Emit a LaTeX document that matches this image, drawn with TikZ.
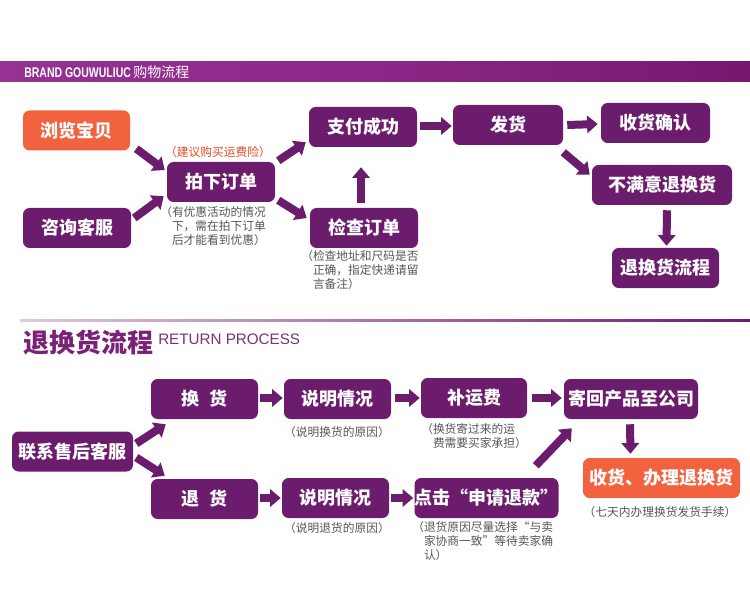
\documentclass[tikz,border=0pt]{standalone}
\usepackage{fontspec}
\setmainfont{Noto Sans CJK SC}
\newfontfamily\latinsans{Liberation Sans}
\usetikzlibrary{positioning,arrows.meta}

\definecolor{plum}{RGB}{108,28,108}
\definecolor{coral}{RGB}{242,98,62}
\definecolor{notegray}{RGB}{85,85,85}
\definecolor{hintred}{RGB}{226,74,34}
\definecolor{bannerL}{RGB}{150,50,145}
\definecolor{bannerM}{RGB}{140,40,135}
\definecolor{bannerR}{RGB}{118,24,112}
\definecolor{lineL}{RGB}{225,200,225}
\definecolor{titlepurple}{RGB}{122,34,120}

\begin{document}
\begin{tikzpicture}[
  x=0.75pt, y=-0.75pt,
  >={Triangle[length=8pt,width=13pt]},
  box/.style={fill=plum, rounded corners=5pt, text=white, inner sep=0pt,
              font=\bfseries\fontsize{13.5}{14}\selectfont,
              minimum height=30pt},
  hot/.style={box, fill=coral},
  wd/.style={minimum width=#1*0.75pt},
  note/.style={text=notegray, inner sep=0pt, align=left,
               font=\fontsize{8.8}{10.5}\selectfont},
  flow/.style={->, line width=6pt, draw=plum},
]
\useasboundingbox (0,0) rectangle (750,599);

% banner
\shade[left color=bannerL, right color=bannerR, middle color=bannerM] (0,62) rectangle (750,82);
\node[anchor=west, text=white, inner sep=0pt] (brand) at (24,72)
  {\fontsize{10.5}{12}\selectfont\scalebox{0.75}[1]{\latinsans\bfseries BRAND GOUWULIUC}\,购物流程};

% shopping flow
\node[hot, wd=107] (browse)  at (76.5,130.5) {浏览宝贝};
\node[box, wd=108] (consult) at (77,228)     {咨询客服};
\node[box, wd=108] (order)   at (221,182)    {拍下订单};
\node[box, wd=108] (pay)     at (363,127)    {支付成功};
\node[box, wd=108] (check)   at (364,228)    {检查订单};
\node[box, wd=110] (ship)    at (508,125)    {发货};
\node[box, wd=109] (confirm) at (655.5,123)  {收货确认};
\node[box, wd=140] (unhappy) at (662,185)    {不满意退换货};
\node[box, wd=107] (rflow)   at (665.5,268)  {退换货流程};

\node[note, text=hintred] (insure) at (218,152) {（建议购买运费险）};
\node[note, anchor=north west] (ordernote) at (160,206)
  {（有优惠活动的情况\\\hspace*{1em}下，需在拍下订单\\\hspace*{1em}后才能看到优惠）};
\node[note, anchor=north west] (checknote) at (301,250)
  {（检查地址和尺码是否\\\hspace*{1em}正确，指定快递请留\\\hspace*{1em}言备注）};

\draw[flow] ([shift={(6,-2)}]browse.south east) -- ([shift={(-2,-12)}]order.west);
\draw[flow] ([shift={(3,-10)}]consult.east) -- ([shift={(-3,-6)}]order.south west);
\draw[flow] ([shift={(3,-1)}]order.north east) -- ([shift={(-3,-5)}]pay.south west);
\draw[flow] ([shift={(3,-2)}]order.south east) -- ([shift={(-3,-10)}]check.west);
\draw[flow] ([shift={(-3,-5)}]check.north) -- ([shift={(-2,20)}]pay.south);
\draw[flow] ([shift={(3,-1)}]pay.east) -- ([shift={(-1,1)}]ship.west);
\draw[flow] ([shift={(4,0)}]ship.east) -- ([shift={(-3,1)}]confirm.west);
\draw[flow] ([shift={(0,7)}]ship.south east) -- ([shift={(-2,10)}]unhappy.north west);
\draw[flow] ([shift={(5,5)}]unhappy.south) -- ([shift={(1,-2)}]rflow.north);

% return section header
\shade[left color=lineL, right color=plum] (20,319) rectangle (750,321.5);
\node[anchor=west, inner sep=0pt, text=titlepurple,
      font=\bfseries\fontsize{19.5}{20}\selectfont] (rtitle) at (23,343) {退换货流程};
\node[anchor=base west, inner sep=0pt, text=titlepurple!85!gray,
      font=\latinsans\fontsize{11.4}{12}\selectfont] (rsub) at (158,344) {RETURN PROCESS};

% return flow
\node[box, wd=121] (service)  at (72.5,451.5) {联系售后客服};
\node[box, wd=107] (exchange) at (204.5,399)  {换\hspace{0.6em}货};
\node[box, wd=107] (refund)   at (204.5,499)  {退\hspace{0.6em}货};
\node[box, wd=107] (explainA) at (337.5,399)  {说明情况};
\node[box, wd=107] (explainB) at (335.5,498)  {说明情况};
\node[box, wd=106] (freight)  at (474,398)    {补运费};
\node[box, wd=134] (sendback) at (631,399)    {寄回产品至公司};
\node[hot, wd=157] (receive)  at (661.5,478)  {收货、办理退换货};
\node[box, wd=143] (apply)    at (486.5,498)  {点击“申请退款”};

\node[note] (explainAnote) at (337,432) {（说明换货的原因）};
\node[note] (explainBnote) at (337,528) {（说明退货的原因）};
\node[note, anchor=north west] (freightnote) at (421,423)
  {（换货寄过来的运\\\hspace*{1em}费需要买家承担）};
\node[note] (receivenote) at (660,512) {（七天内办理换货发货手续）};
\node[note, anchor=north west] (applynote) at (412,521)
  {（退货原因尽量选择“与卖\\\hspace*{1em}家协商一致”等待卖家确\\\hspace*{1em}认）};

\draw[flow] ([shift={(3,-8)}]service.east) -- ([shift={(15,5)}]exchange.south west);
\draw[flow] ([shift={(3,6)}]service.east) -- ([shift={(14,-3)}]refund.north west);
\draw[flow] ([shift={(2,-1)}]exchange.east) -- ([shift={(-1,-1)}]explainA.west);
\draw[flow] ([shift={(4,-1)}]explainA.east) -- ([shift={(-1,0)}]freight.west);
\draw[flow] ([shift={(5,0)}]freight.east) -- ([shift={(-2,-1)}]sendback.west);
\draw[flow] ([shift={(2,-1)}]refund.east) -- ([shift={(-1,0)}]explainB.west);
\draw[flow] ([shift={(2,0)}]explainB.east) -- ([shift={(-1,0)}]apply.west);
\draw[flow] ([shift={(-23,-12)}]apply.north east) -- ([shift={(8,9)}]sendback.south west);
\draw[flow] ([shift={(-1,5)}]sendback.south) -- ([shift={(-31,-4)}]receive.north);
\end{tikzpicture}
\end{document}
